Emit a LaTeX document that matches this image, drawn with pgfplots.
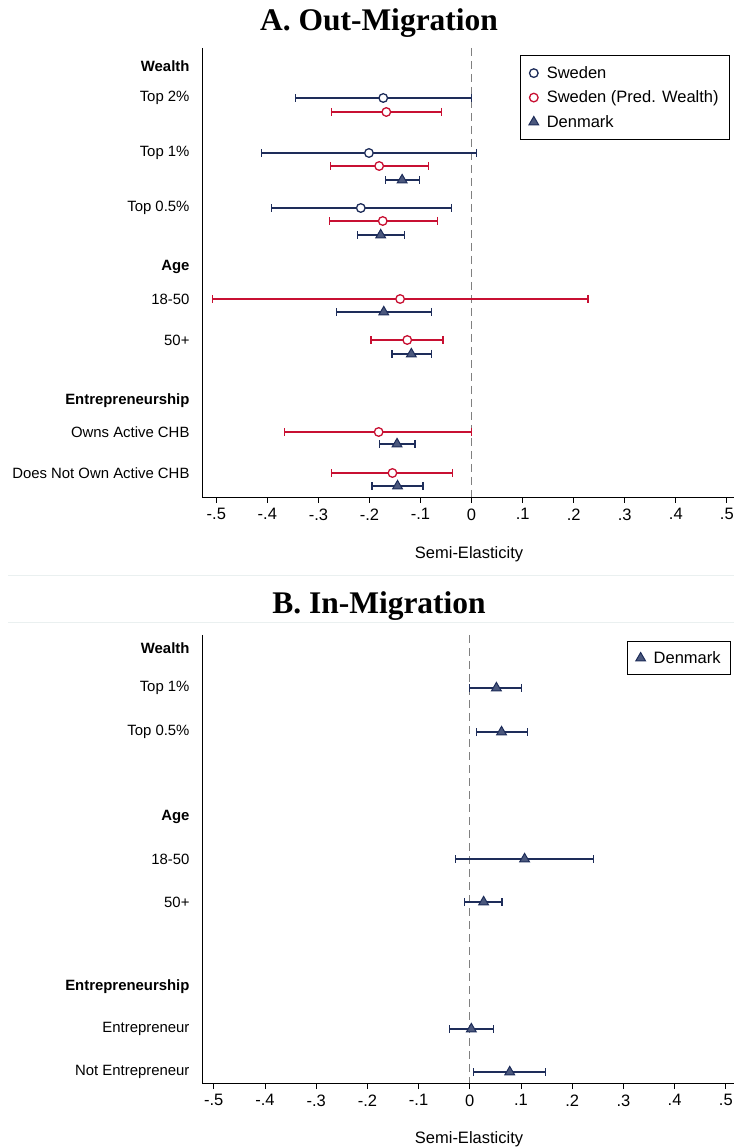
\documentclass[border=0pt]{standalone}
\usepackage{pgfplots}
\pgfplotsset{compat=1.18}
\usepackage{fontspec}
\setmainfont{Liberation Sans}
\newfontfamily\titlefont{Liberation Serif}
\definecolor{navy}{RGB}{30,45,90}
\definecolor{cred}{RGB}{200,16,50}
\definecolor{tfill}{RGB}{75,88,125}
\definecolor{sep}{RGB}{234,240,240}

\pgfplotsset{
  panel/.style={
    scale only axis, width=532pt,
    axis lines*=left, axis line style={-, line width=0.8pt, black},
    y dir=reverse,
    tick align=outside, major tick length=6pt,
    xtick={-0.5,-0.4,-0.3,-0.2,-0.1,0,0.1,0.2,0.3,0.4,0.5},
    xticklabels={-.5,-.4,-.3,-.2,-.1,0,.1,.2,.3,.4,.5},
    x tick style={line width=0.8pt, black},
    y tick style={draw=none},
    xticklabel style={font=\fontsize{16.5}{19}\selectfont, yshift=-2pt},
    yticklabel style={font=\fontsize{14.9}{17}\selectfont, xshift=-3pt},
    clip=false,
    legend cell align=left,
    legend image code/.code={\draw[##1] plot coordinates {(3pt,0pt)}; \path[draw=none,fill=none] (-1pt,0pt) (14pt,0pt);},
    legend style={draw=black, line width=0.8pt, font=\fontsize{16.5}{19}\selectfont,
      at={(1,1)}, anchor=north east, row sep=7pt, inner xsep=9pt, inner ysep=9pt},
  },
  sw/.style={navy, only marks, mark=*, mark size=4.3pt,
    mark options={fill=white, draw=navy, line width=1.3pt},
    error bars/.cd, x dir=both, x explicit,
    error bar style={line width=1.2pt, navy},
    error mark options={line width=1.2pt, mark size=4pt, navy, rotate=90}},
  pw/.style={cred, only marks, mark=*, mark size=4.3pt,
    mark options={fill=white, draw=cred, line width=1.3pt},
    error bars/.cd, x dir=both, x explicit,
    error bar style={line width=1.2pt, cred},
    error mark options={line width=1.2pt, mark size=4pt, cred, rotate=90}},
  dk/.style={navy, only marks, mark=triangle*, mark size=5.6pt,
    mark options={fill=tfill, draw=navy, line width=1pt},
    error bars/.cd, x dir=both, x explicit,
    error bar style={line width=1.2pt, navy},
    error mark options={line width=1.2pt, mark size=4pt, navy, rotate=90}},
  zl/.style={gray, line width=1pt, dash pattern=on 8pt off 5pt, forget plot},
}

\begin{document}
\begin{tikzpicture}[x=1pt,y=1pt]
\useasboundingbox (0,0) rectangle (734,1148);
\draw[sep, line width=1pt] (8,572) -- (734,572);
\draw[sep, line width=1pt] (8,525) -- (734,525);
\node[font=\titlefont\bfseries\fontsize{31.5}{35}\selectfont] at (379,1125) {A. Out-Migration};
\node[font=\titlefont\bfseries\fontsize{31.5}{35}\selectfont] at (379,542) {B. In-Migration};
\node[font=\fontsize{16.5}{19}\selectfont] at (469,594) {Semi-Elasticity};
\node[font=\fontsize{16.5}{19}\selectfont] at (469,9) {Semi-Elasticity};

\begin{axis}[panel, at={(202pt,651pt)}, anchor=south west, height=449pt,
  xmin=-0.528, xmax=0.514, ymin=48, ymax=497,
  ytick={66,98,153,208,267,299,340,401,432,473},
  yticklabels={\textbf{Wealth},Top 2\%,Top 1\%,Top 0.5\%,\textbf{Age},18-50,50+,\textbf{Entrepreneurship},Owns Active CHB,Does Not Own Active CHB},
  legend style={xshift=-4pt, yshift=-7pt}]
\addplot[zl] coordinates {(0,48) (0,497)};
\addplot[sw] coordinates {
  (-0.173,98)  += (0.173,0) -= (0.172,0)
  (-0.201,153) += (0.210,0) -= (0.211,0)
  (-0.217,208) += (0.177,0) -= (0.175,0)
};
\addlegendentry{Sweden}
\addplot[pw] coordinates {
  (-0.167,112) += (0.108,0) -= (0.107,0)
  (-0.181,166) += (0.096,0) -= (0.096,0)
  (-0.174,221) += (0.107,0) -= (0.104,0)
  (-0.140,299) += (0.368,0) -= (0.367,0)
  (-0.126,340) += (0.070,0) -= (0.071,0)
  (-0.182,432) += (0.182,0) -= (0.184,0)
  (-0.155,473) += (0.118,0) -= (0.120,0)
};
\addlegendentry{Sweden (Pred. Wealth)\hspace{6pt}}
\addplot[dk] coordinates {
  (-0.136,180) += (0.034,0) -= (0.033,0)
  (-0.178,235) += (0.046,0) -= (0.045,0)
  (-0.172,312) += (0.094,0) -= (0.093,0)
  (-0.118,354) += (0.039,0) -= (0.038,0)
  (-0.146,444) += (0.035,0) -= (0.034,0)
  (-0.145,486) += (0.050,0) -= (0.050,0)
};
\addlegendentry{Denmark}
\end{axis}

\begin{axis}[panel, at={(202pt,65pt)}, anchor=south west, height=448pt,
  xmin=-0.523, xmax=0.516, ymin=635, ymax=1083,
  ytick={648,688,732,817,859,902,987,1029,1072},
  yticklabels={\textbf{Wealth},Top 1\%,Top 0.5\%,\textbf{Age},18-50,50+,\textbf{Entrepreneurship},Entrepreneur,Not Entrepreneur},
  legend style={xshift=-3pt, yshift=-6pt, inner ysep=8pt, inner xsep=8pt}]
\addplot[zl] coordinates {(0,635) (0,1083)};
\addplot[dk] coordinates {
  (0.052,688)  += (0.049,0) -= (0.052,0)
  (0.062,732)  += (0.050,0) -= (0.049,0)
  (0.107,859)  += (0.134,0) -= (0.135,0)
  (0.027,902)  += (0.036,0) -= (0.037,0)
  (0.003,1029) += (0.043,0) -= (0.043,0)
  (0.078,1072) += (0.070,0) -= (0.071,0)
};
\addlegendentry{Denmark}
\end{axis}
\end{tikzpicture}
\end{document}
